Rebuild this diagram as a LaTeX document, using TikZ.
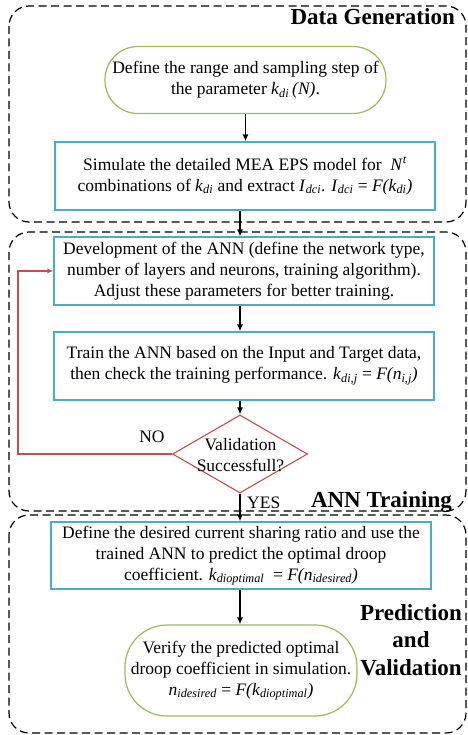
\documentclass[tikz,border=0pt]{standalone}
\usepackage{fontspec}
\setmainfont{Liberation Serif}
\usetikzlibrary{arrows.meta,shapes.geometric}

\definecolor{boxblue}{RGB}{75,172,198}
\definecolor{termgreen}{RGB}{155,187,89}
\definecolor{loopred}{RGB}{192,80,77}

% italic subscript / superscript in running text
\newcommand{\lowtxt}[1]{\textsubscript{\itshape #1}}
\newcommand{\hightxt}[1]{\textsuperscript{\itshape #1}}
\newcommand{\bodyfs}{\fontsize{17.5}{21}\selectfont}
\newcommand{\titlefs}{\fontsize{23}{27.5}\selectfont\bfseries}

\begin{document}
\begin{tikzpicture}[x=1pt,y=-1pt,
  group/.style={draw=black,line width=1.2pt,dash pattern=on 8pt off 4.5pt,rounded corners=20pt},
  proc/.style={draw=boxblue,line width=1.2pt,minimum width=380pt,minimum height=68pt,
    align=center,font=\bodyfs,inner sep=0pt},
  term/.style={draw=termgreen,line width=1.2pt,align=center,font=\bodyfs,inner sep=0pt},
  decision/.style={draw=loopred,line width=1.1pt,diamond,inner sep=0pt,
    minimum width=135pt,minimum height=78pt},
  flow/.style={draw=black,line width=1.3pt,-{Latex[length=7pt,width=6pt]}},
  back/.style={draw=loopred,line width=1.1pt,-{Latex[length=6pt,width=5pt]}},
  title/.style={font=\titlefs,inner sep=0pt,align=center},
  lbl/.style={font=\bodyfs,inner sep=0pt}]

\useasboundingbox (0,0) rectangle (467,735);

% dashed stage frames
\draw[group] (9,6) rectangle (466,222);
\draw[group] (9,232) rectangle (466,511);
\draw[group] (9,515) rectangle (466,733);

% stage titles
\node[title,anchor=base east] (tgen) at (455,25) {Data Generation};
\node[title,anchor=base east] (tann) at (452,507) {ANN Training};
\node[title] (tpred) at (411,640) {Prediction\\and\\Validation};

% data generation
\node[term,minimum width=281pt,minimum height=67pt,rounded corners=33pt] (start) at (245.5,80)
  {Define the range and sampling step of\\the parameter \textit{k}\lowtxt{di}\,\textit{(N)}.};
\node[proc] (sim) at (245,176)
  {Simulate the detailed MEA EPS model for~ \textit{N}\hightxt{t}\\
   combinations of \textit{k}\lowtxt{di} and extract \textit{I}\lowtxt{dci}. \textit{I}\lowtxt{dci} = \textit{F(k}\lowtxt{di}\textit{)}};

% ANN training
\node[proc] (dev) at (244,271)
  {Development of the ANN (define the network type,\\
   number of layers and neurons, training algorithm).\\
   Adjust these parameters for better training.};
\node[proc] (train) at (244,366)
  {Train the ANN based on the Input and Target data,\\
   then check the training performance. \textit{k}\lowtxt{di,j} = \textit{F(n}\lowtxt{i,j}\textit{)}};
\node[decision] (chk) at (240,454) {};
\node[lbl,align=center] (chktxt) at (240.5,455) {Validation\\Successfull?};
\node[lbl] (nolbl) at (152,437) {NO};
\node[lbl,anchor=west] (yeslbl) at (247,503) {YES};
\coordinate (loopx) at (18,454);

% prediction and validation
\node[proc,minimum height=67pt] (pred) at (241,555.5)
  {Define the desired current sharing ratio and use the\\
   trained ANN to predict the optimal droop\\
   coefficient. \textit{k}\lowtxt{dioptimal}~ = \textit{F(n}\lowtxt{idesired}\textit{)}};
\node[term,minimum width=232pt,minimum height=91pt,rounded corners=42pt] (verify) at (241,670.5)
  {Verify the predicted optimal\\
   droop coefficient in simulation.\\
   \textit{n}\lowtxt{idesired} = \textit{F(k}\lowtxt{dioptimal}\textit{)}};

% connectors
\draw[flow] (start) -- (start |- sim.north);
\draw[flow] (sim.south -| chk) -- (dev.north -| chk);
\draw[flow] (dev.south -| chk) -- (train.north -| chk);
\draw[flow] (train.south -| chk) -- (chk.north);
\draw[flow] (chk.south) -- (pred.north -| chk);
\draw[flow] (pred.south -| chk) -- (verify.north -| chk);
\draw[back] (chk.west) -- (loopx) |- (dev.west);

\end{tikzpicture}
\end{document}
